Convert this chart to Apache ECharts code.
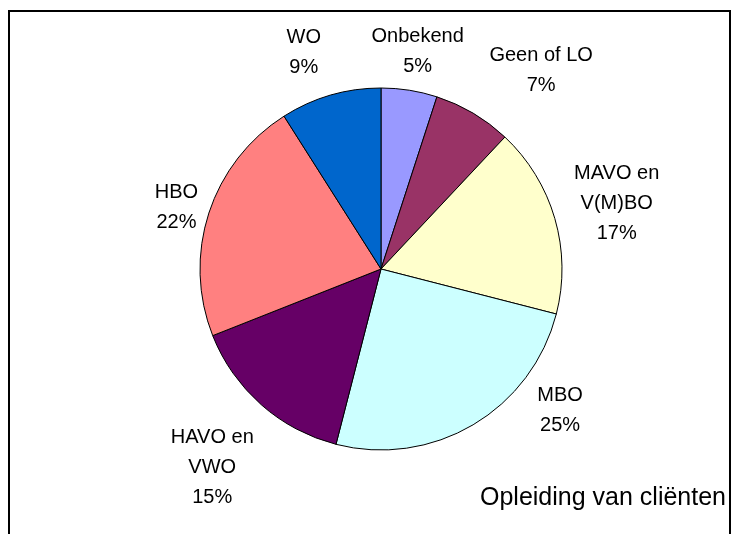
<!DOCTYPE html>
<html>
<head>
<meta charset="utf-8">
<script src="https://cdn.jsdelivr.net/npm/echarts@6/dist/echarts.min.js"></script>
<style>
html,body{margin:0;padding:0;background:#fff;}
#chart{width:733px;height:534px;}
</style>
</head>
<body>
<div id="chart"></div>
<script>
var categories = ['Onbekend', 'Geen of LO', 'MAVO en\nV(M)BO', 'MBO', 'HAVO en\nVWO', 'HBO', 'WO'];
var values = [5, 7, 17, 25, 15, 22, 9];
var colors = ['#9999FF', '#993366', '#FFFFCC', '#CCFFFF', '#660066', '#FF8080', '#0066CC'];
var titleText = 'Opleiding van cliënten';

var labelNudge = {
  'Onbekend': [0, 14],
  'Geen of LO': [41, 3],
  'MAVO en\nV(M)BO': [11, 0],
  'MBO': [60, -60],
  'HAVO en\nVWO': [-14, 23],
  'HBO': [18, 11],
  'WO': [-12, 8]
};

var chart = echarts.init(document.getElementById('chart'), null, {renderer: 'canvas'});
var font = '"Liberation Sans", Arial, sans-serif';

var pieData = categories.map(function (c, i) {
  return { name: c, value: values[i], itemStyle: { color: colors[i] } };
});
var labelData = categories.map(function (c, i) {
  return {
    name: c, value: values[i],
    label: { offset: labelNudge[c] }
  };
});

chart.setOption({
  animation: false,
  title: {
    text: titleText,
    left: 480, top: 486, padding: 0,
    textStyle: { fontFamily: font, fontSize: 25, fontWeight: 'normal', color: '#000', lineHeight: 25 }
  },
  graphic: [{
    type: 'rect', silent: true,
    shape: { x: 9, y: 11, width: 721, height: 600 },
    style: { fill: 'none', stroke: '#000', lineWidth: 2 }
  }],
  series: [{
    type: 'pie',
    center: [381, 269],
    radius: [0, 181],
    startAngle: 90,
    clockwise: true,
    silent: true,
    label: { show: false },
    labelLine: { show: false },
    itemStyle: { borderColor: '#000', borderWidth: 1 },
    data: pieData
  }, {
    type: 'pie',
    center: [381, 269],
    radius: [181, 281],
    startAngle: 90,
    clockwise: true,
    silent: true,
    itemStyle: { color: 'rgba(0,0,0,0)', borderWidth: 0 },
    label: {
      show: true, position: 'inside', rotate: 0,
      formatter: '{b}\n{c}%',
      color: '#000', fontFamily: font, fontSize: 20, lineHeight: 30, align: 'center'
    },
    labelLine: { show: false },
    data: labelData
  }]
});
</script>
</body>
</html>
